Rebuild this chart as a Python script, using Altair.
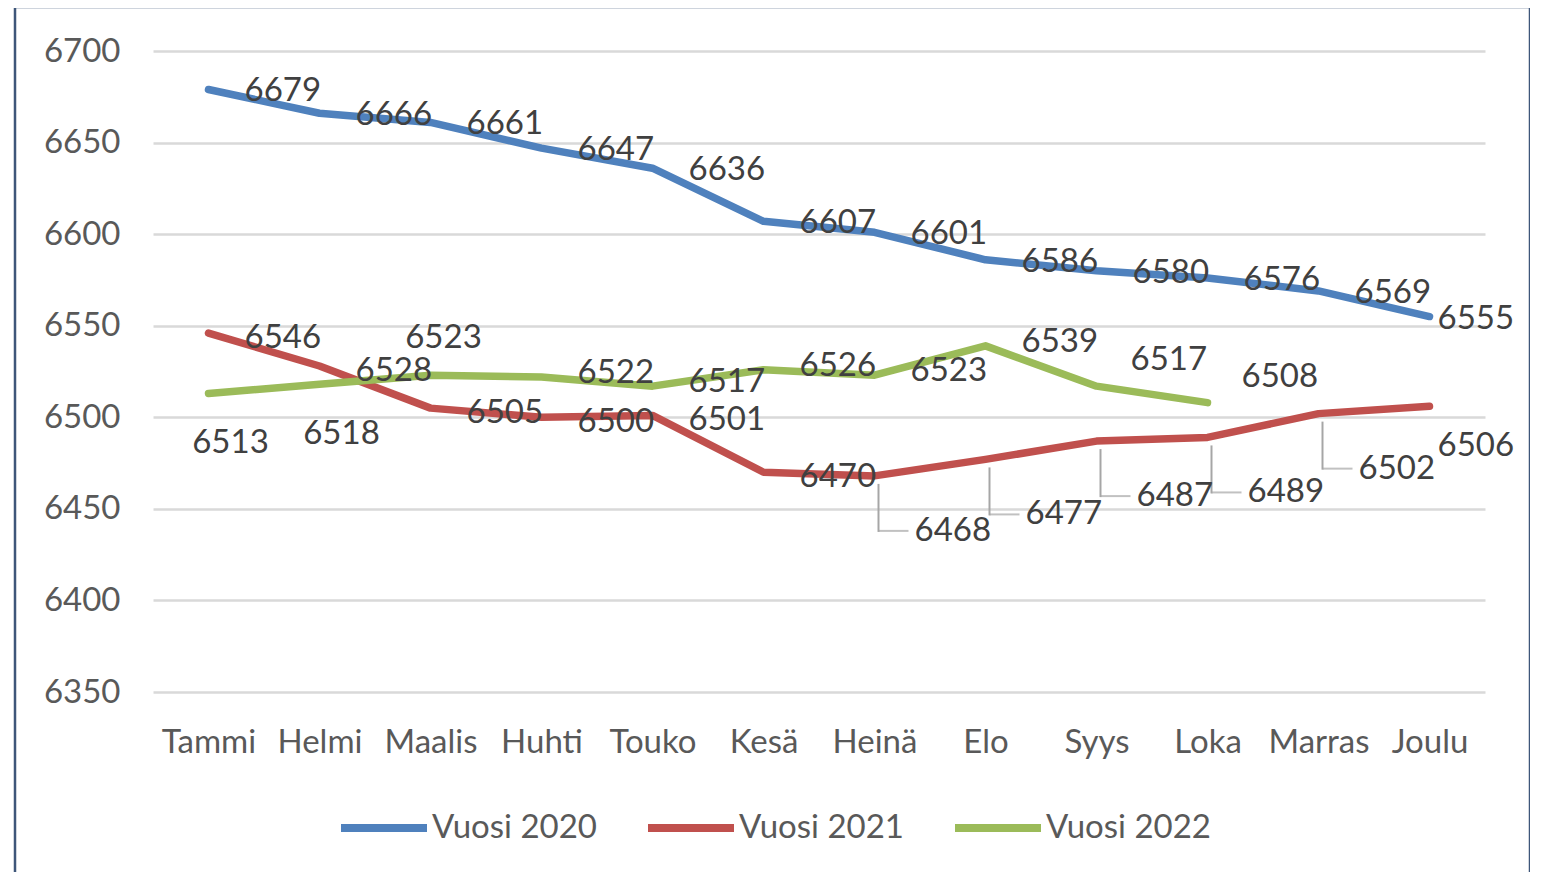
import altair as alt
import pandas as pd

months = ["Tammi", "Helmi", "Maalis", "Huhti", "Touko", "Kesä",
          "Heinä", "Elo", "Syys", "Loka", "Marras", "Joulu"]
series_names = ["Vuosi 2020", "Vuosi 2021", "Vuosi 2022"]
v2020 = [6679, 6666, 6661, 6647, 6636, 6607, 6601, 6586, 6580, 6576, 6569, 6555]
v2021 = [6546, 6528, 6505, 6500, 6501, 6470, 6468, 6477, 6487, 6489, 6502, 6506]
v2022 = [6513, 6518, 6523, 6522, 6517, 6526, 6523, 6539, 6517, 6508]
colors = ["#4F81BD", "#C0504D", "#9BBB59"]

rows = []
for name, vals in zip(series_names, [v2020, v2021, v2022]):
    for i, v in enumerate(vals):
        rows.append({"Kuukausi": months[i], "Sarja": name, "Arvo": v})
df = pd.DataFrame(rows)

red_min_idx = v2021.index(min(v2021))

# label placement rules derived from the data (mimicking Excel's adjusted labels)
def placement(r):
    i = months.index(r["Kuukausi"])
    s = r["Sarja"]
    last = i == len(months) - 1
    if s == "Vuosi 2020":
        return "last" if last else "right"
    if s == "Vuosi 2021":
        if last:
            return "lastbelow"
        if i >= red_min_idx:
            return "redbelow"
        return "redright"
    # 2022
    if r["Arvo"] < v2021[i]:
        return "below"
    if i > 0 and v2022[i - 1] < v2021[i - 1]:
        return "above"
    if i > 0 and v2022[i - 1] - r["Arvo"] > 5:
        return "raised"
    return "greenright"

df["pos"] = df.apply(placement, axis=1)

FONT = "Lato"
TXT = "#595959"
FS = 33

x_scale = alt.Scale(type="point", padding=0.5)
x_axis = alt.Axis(labelAngle=0, ticks=False, domain=False,
                  labelAlign="center", labelBaseline="top",
                  labelFontSize=FS, labelColor=TXT, labelFont=FONT,
                  labelPadding=34, title=None)
y_scale = alt.Scale(domain=[6350, 6700], nice=False, zero=False)
y_axis = alt.Axis(values=list(range(6350, 6701, 50)), format="d", ticks=False,
                  domain=False, labelFontSize=FS, labelColor=TXT,
                  labelFont=FONT, labelPadding=33, gridColor="#D9D9D9",
                  gridWidth=2.5, title=None)

x_enc = alt.X("Kuukausi:N", sort=months, scale=x_scale, axis=x_axis)
y_enc = alt.Y("Arvo:Q", scale=y_scale, axis=y_axis)

color_enc = alt.Color("Sarja:N", sort=series_names,
                      scale=alt.Scale(domain=series_names, range=colors),
                      legend=alt.Legend(title=None, orient="none", direction="horizontal",
                                        legendX=184, legendY=730,
                                        symbolType="stroke", symbolSize=7396,
                                        symbolStrokeWidth=8, labelFontSize=FS,
                                        labelColor=TXT, labelFont=FONT, labelOffset=1,
                                        labelLimit=0, columnPadding=35))

base = alt.Chart(df)

lines = base.mark_line(strokeWidth=7.5, strokeCap="round", strokeJoin="round").encode(
    x=x_enc, y=y_enc, color=color_enc)

text_common = dict(fontSize=FS, font=FONT, color="#404040", baseline="middle")

# (pos, align, dx, dy)
placements = [
    ("right", "left", 36, 2),
    ("last", "left", 8, 2),
    ("redright", "left", 36, 5),
    ("redbelow", "left", 40, 55),
    ("lastbelow", "left", 8, 40),
    ("below", "center", 22, 50),
    ("above", "center", 13, -37),
    ("raised", "left", 34, -26),
    ("greenright", "left", 36, -4),
]

label_layers = []
for pos, align, dx, dy in placements:
    label_layers.append(
        base.transform_filter(alt.datum.pos == pos).mark_text(
            align=align, dx=dx, dy=dy, **text_common).encode(
            x=x_enc, y=y_enc, text="Arvo:Q"))

# leader lines for the labels moved below the 2021 line
leader_src = base.transform_filter(alt.datum.pos == "redbelow")
leader_down = leader_src.mark_rule(
    color="#A6A6A6", strokeWidth=2, xOffset=4, yOffset=8, y2Offset=56).encode(
    x=x_enc, y=y_enc, y2="Arvo:Q")
leader_side = leader_src.mark_tick(
    color="#A6A6A6", thickness=2, size=30, orient="horizontal",
    xOffset=19, yOffset=55).encode(x=x_enc, y=y_enc)

frame = alt.Chart(pd.DataFrame({"k": [0]})).mark_rect(
    fill=None, stroke="#3E5679", strokeWidth=2.5).encode(
    x=alt.value(-138), x2=alt.value(1377), y=alt.value(-44), y2=alt.value(840))

chart = alt.layer(lines, leader_down, leader_side, *label_layers, frame).properties(
    width=1332, height=641,
    background="white",
    autosize=alt.AutoSizeParams(type="none"),
    padding={"left": 145, "top": 43, "right": 45, "bottom": 180},
).configure_view(stroke=None, strokeWidth=0)

chart.save("out.html", embed_options={"renderer": "svg", "actions": False})
